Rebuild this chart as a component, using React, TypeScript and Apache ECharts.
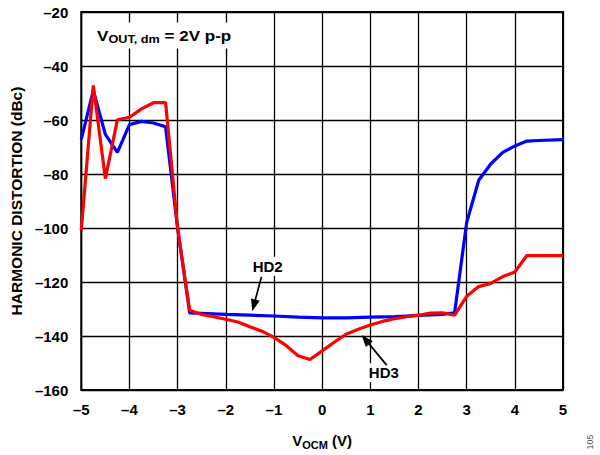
import React, { useEffect, useRef } from "react";
import * as echarts from "echarts";

// HD2 (blue)
const hd2X = [-5, -4.75, -4.5, -4.25, -4, -3.75, -3.5, -3.25, -3, -2.75, -2.5, -2, -1.5, -1, -0.5, 0, 0.5, 1, 1.5, 2, 2.5, 2.75, 3, 3.25, 3.5, 3.75, 4, 4.25, 4.5, 5];
const hd2Y = [-67.2, -49, -65.3, -72, -61.7, -60.5, -61.1, -62.5, -100, -131.4, -131.6, -132, -132.3, -132.6, -133, -133.3, -133.3, -133, -132.8, -132.4, -132, -131.4, -98, -82.3, -76.3, -72, -69.6, -67.8, -67.6, -67.3];

// HD3 (red)
const hd3X = [-5, -4.75, -4.5, -4.25, -4, -3.75, -3.5, -3.25, -3, -2.75, -2.5, -2, -1.75, -1.5, -1.25, -1, -0.75, -0.5, -0.25, 0, 0.25, 0.5, 0.75, 1, 1.25, 1.5, 1.75, 2, 2.25, 2.5, 2.75, 3, 3.25, 3.5, 3.75, 4, 4.25, 4.5, 5];
const hd3Y = [-101, -47.2, -81.7, -59.9, -59, -55.9, -53.6, -53.6, -100, -130.5, -132, -133.8, -134.8, -136.6, -138.2, -140.5, -143.5, -147.3, -148.7, -145.5, -142.3, -139.3, -137.5, -135.9, -134.6, -133.6, -132.8, -132.3, -131.5, -131.4, -132.3, -125.3, -121.7, -120.5, -118, -116.3, -110.2, -110.2, -110.2];

const xMin = -5, xMax = 5, xStep = 1;
const yMin = -160, yMax = -20, yStep = 20;

// annotation anchors in data coordinates
const hd2Label = { text: "HD2", x: -1.13, y: -114.2, tail: [-1.26, -118.1], tip: [-1.45, -130.8] };
const hd3Label = { text: "HD3", x: 1.28, y: -153.6, tail: [1.34, -150.8], tip: [0.82, -139.6] };
const condLabel = { x: -4.74, y: -28.7 };

const FONT = '"Liberation Sans", Arial, Helvetica, sans-serif';

export default function App() {
  const ref = useRef<HTMLDivElement>(null);
  useEffect(() => {
    const chart = echarts.init(ref.current!, null, { renderer: "svg" });
    const minus = (v: number) => String(v).replace("-", "\u2013");
    chart.setOption({
      animation: false,
      backgroundColor: "#fff",
      textStyle: { fontFamily: FONT },
      grid: {
        left: 81,
        right: 37,
        top: 12,
        bottom: 58,
        show: true,
        borderColor: "#000",
        borderWidth: 2,
        backgroundColor: "transparent",
      },
      xAxis: {
        type: "value",
        min: xMin,
        max: xMax,
        interval: xStep,
        axisLine: { show: false },
        axisTick: { show: false },
        splitLine: { show: true, lineStyle: { color: "#000", width: 1.3 } },
        axisLabel: {
          formatter: minus,
          color: "#000",
          fontWeight: "bold",
          fontSize: 15,
          fontFamily: FONT,
          margin: 12,
        },
        name: "{v|V}{s|OCM}{v| (V)}",
        nameLocation: "middle",
        nameGap: 41,
        nameTextStyle: {
          rich: {
            v: { fontSize: 15, fontWeight: "bold", fontFamily: FONT, color: "#000" },
            s: { fontSize: 11, fontWeight: "bold", fontFamily: FONT, color: "#000", padding: [8, 0, 0, 0] },
          },
        },
      },
      yAxis: {
        type: "value",
        min: yMin,
        max: yMax,
        interval: yStep,
        axisLine: { show: false },
        axisTick: { show: false },
        splitLine: { show: true, lineStyle: { color: "#000", width: 1.3 } },
        axisLabel: {
          formatter: minus,
          color: "#000",
          fontWeight: "bold",
          fontSize: 15,
          fontFamily: FONT,
          margin: 13,
        },
        name: "HARMONIC DISTORTION (dBc)",
        nameLocation: "middle",
        nameGap: 52,
        nameTextStyle: { fontSize: 15.5, fontWeight: "bold", fontFamily: FONT, color: "#000" },
      },
      series: [
        {
          type: "line",
          name: "HD2",
          data: hd2X.map((x, i) => [x, hd2Y[i]]),
          showSymbol: false,
          lineStyle: { color: "#0000ff", width: 3.2 },
          itemStyle: { color: "#0000ff" },
          z: 3,
        },
        {
          type: "line",
          name: "HD3",
          data: hd3X.map((x, i) => [x, hd3Y[i]]),
          showSymbol: false,
          lineStyle: { color: "#ff0000", width: 3.2 },
          itemStyle: { color: "#ff0000" },
          z: 4,
        },
      ],
    });

    const px = (x: number, y: number) => chart.convertToPixel({ gridIndex: 0 }, [x, y]) as number[];
    const arrow = (tail: number[], tip: number[]) => {
      const a = px(tail[0], tail[1]);
      const b = px(tip[0], tip[1]);
      const dx = b[0] - a[0], dy = b[1] - a[1];
      const len = Math.hypot(dx, dy);
      const ux = dx / len, uy = dy / len;
      const nx = -uy, ny = ux;
      const L = 12, W = 4.5;
      const bx = b[0] - ux * L, by = b[1] - uy * L;
      return [
        { type: "line", z: 100, shape: { x1: a[0], y1: a[1], x2: bx + ux * 2, y2: by + uy * 2 }, style: { stroke: "#000", lineWidth: 1.7 } },
        { type: "polygon", z: 100, shape: { points: [[b[0], b[1]], [bx + nx * W, by + ny * W], [bx - nx * W, by - ny * W]] }, style: { fill: "#000" } },
      ];
    };
    const label = (l: { text: string; x: number; y: number }) => {
      const p = px(l.x, l.y);
      return {
        type: "text",
        z: 100,
        x: p[0],
        y: p[1],
        style: {
          text: l.text,
          align: "center",
          verticalAlign: "middle",
          fontSize: 15,
          fontWeight: "bold",
          fontFamily: FONT,
          fill: "#000",
          backgroundColor: "#fff",
          padding: [2, 2],
        },
      };
    };
    const c = px(condLabel.x, condLabel.y);
    chart.setOption({
      graphic: [
        {
          type: "text",
          z: 100,
          x: c[0],
          y: c[1],
          scaleX: 1.1,
          style: {
            text: "{v|V}{s|OUT, dm}{v| = 2V p-p}",
            align: "left",
            verticalAlign: "middle",
            backgroundColor: "#fff",
            padding: [3, 3],
            rich: {
              v: { fontSize: 15.5, fontWeight: "bold", fontFamily: FONT, fill: "#000" },
              s: { fontSize: 11.5, fontWeight: "bold", fontFamily: FONT, fill: "#000", padding: [8, 0, 0, 0] },
            },
          },
        },
        label(hd2Label),
        ...arrow(hd2Label.tail, hd2Label.tip),
        label(hd3Label),
        ...arrow(hd3Label.tail, hd3Label.tip),
        {
          type: "text",
          x: 590,
          y: 442,
          rotation: Math.PI / 2,
          style: {
            text: "105",
            align: "center",
            verticalAlign: "middle",
            fontSize: 9,
            fontFamily: FONT,
            fill: "#555",
          },
        },
      ],
    });
    return () => chart.dispose();
  }, []);
  return <div ref={ref} style={{ position: "absolute", left: 0, top: 0, width: 600, height: 455 }} />;
}
